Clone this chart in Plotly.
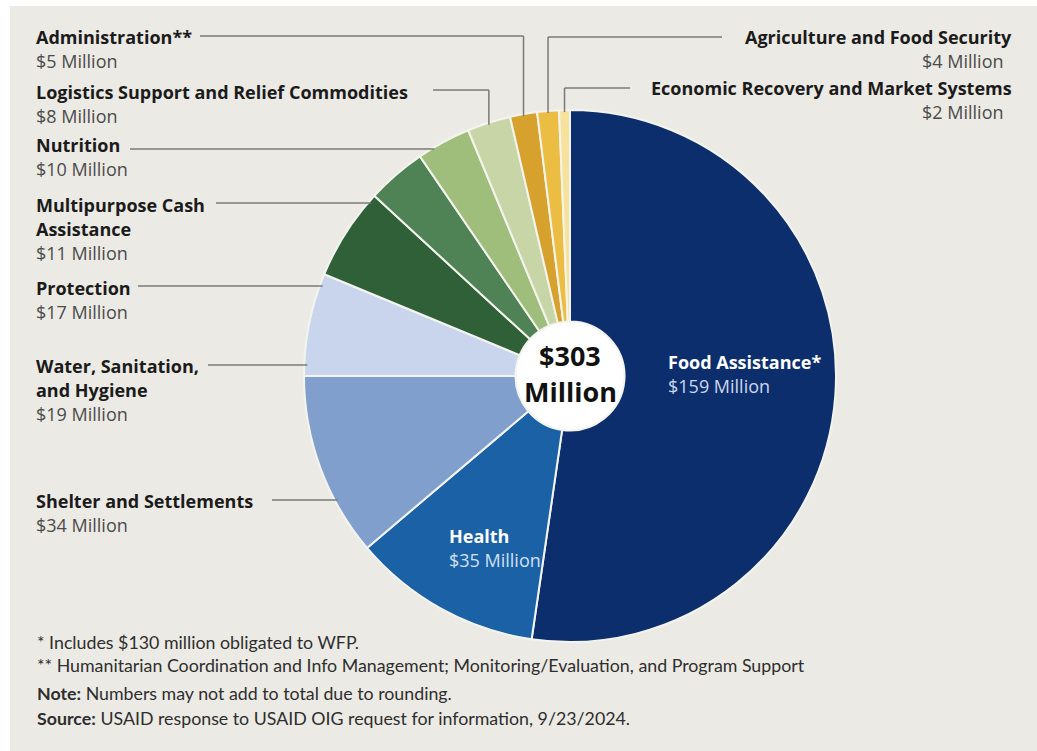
import numpy as np
import plotly.graph_objects as go

W, H = 1037, 751

# data, clockwise from 12 o'clock
sectors = ['Food Assistance*', 'Health', 'Shelter and Settlements',
           'Water, Sanitation, and Hygiene', 'Protection',
           'Multipurpose Cash Assistance', 'Nutrition',
           'Logistics Support and Relief Commodities', 'Administration**',
           'Agriculture and Food Security', 'Economic Recovery and Market Systems']
amounts = [159, 35, 34, 19, 17, 11, 10, 8, 5, 4, 2]
total_label = '$303'
colors = ['#0c2e6c', '#1a61a6', '#819fcd', '#c8d5ec', '#2f6038', '#4f8254',
          '#9fbd7b', '#c8d6a7', '#d6a12c', '#ebbd42', '#f6e29a']

# pie geometry in pixels
cx, cy, R = 570, 376, 266
hole = 0.205
bg = '#ECEAE4'
line_col = '#7a7a7a'
font = 'Open Sans'
foot_font = 'Lato'


def px(x):
  return x / W


def py(y):
  return 1 - y / H


fig = go.Figure(go.Pie(
  labels=sectors, values=amounts, sort=False, direction='clockwise',
  rotation=0, hole=hole, textinfo='none', hoverinfo='label+value',
  marker=dict(colors=colors, line=dict(color='#f4f4ee', width=2)),
  domain=dict(x=[px(cx - R), px(cx + R)], y=[py(cy + R), py(cy - R)]),
))

# white strips on top and left, beige elsewhere
shapes = [
  dict(type='rect', xref='paper', yref='paper', x0=0, x1=px(10), y0=0, y1=1,
       fillcolor='white', line=dict(width=0), layer='below'),
  dict(type='rect', xref='paper', yref='paper', x0=0, x1=1, y0=py(6), y1=1,
       fillcolor='white', line=dict(width=0), layer='below'),
  dict(type='circle', xref='paper', yref='paper',
       x0=px(cx - R * hole), x1=px(cx + R * hole),
       y0=py(cy + R * hole), y1=py(cy - R * hole),
       fillcolor='white', line=dict(width=0), layer='below'),
]

# slice mid angles (clockwise from top), from the data
vals = np.array(amounts, dtype=float)
ends = np.cumsum(vals) / vals.sum() * 360
mids = ends - vals / vals.sum() * 180


def edge_point(i):
  a = np.radians(mids[i])
  return cx + R * np.sin(a), cy - R * np.cos(a)


def hline(x0, x1, y):
  shapes.append(dict(type='line', xref='paper', yref='paper',
                     x0=px(x0), x1=px(x1), y0=py(y), y1=py(y),
                     line=dict(color=line_col, width=1.5)))


def vline(x, y0, y1):
  shapes.append(dict(type='line', xref='paper', yref='paper',
                     x0=px(x), x1=px(x), y0=py(y0), y1=py(y1),
                     line=dict(color=line_col, width=1.5)))


def side_x(y):
  return cx - np.sqrt(max(R ** 2 - (y - cy) ** 2, 0))


annotations = []


def text(x, y, s, anchor='left', size=18, color='#1b1b1b', bold=False, fam=font):
  if bold:
    s = '<b>' + s + '</b>'
  annotations.append(dict(xref='paper', yref='paper', x=px(x), y=py(y), text=s,
                          showarrow=False, xanchor=anchor, yanchor='middle',
                          font=dict(family=fam, size=size, color=color)))


amt_col = '#4b4b4b'

# left-side labels: (index, name lines, y of first line, line start x, line y)
left = [
  (8, ['Administration**'], 37, 200, 36),
  (7, ['Logistics Support and Relief Commodities'], 92, 433, 90),
  (6, ['Nutrition'], 145, 130, 149),
  (5, ['Multipurpose Cash', 'Assistance'], 205, 216, 203),
  (4, ['Protection'], 288, 138, 286),
  (3, ['Water, Sanitation,', 'and Hygiene'], 366, 208, 365),
  (2, ['Shelter and Settlements'], 501, 272, 500),
]
for i, lines, y, lx, ly in left:
  for k, ln in enumerate(lines):
    text(34, y + 24 * k, ln, bold=True)
  text(34, y + 24 * len(lines), '$%d Million' % amounts[i], color=amt_col)
  ex, ey = edge_point(i)
  if i in (7, 8):
    hline(lx, ex, ly)
    vline(ex, ly, ey + 2)
  else:
    hline(lx, side_x(ly) + 3, ly)

# right-side labels
right = [
  (9, 'Agriculture and Food Security', 37, 722),
  (10, 'Economic Recovery and Market Systems', 88, 630),
]
for i, name, y, lx in right:
  text(1014, y, name, anchor='right', bold=True)
  text(1006, y + 24, '$%d Million' % amounts[i], anchor='right', color=amt_col)
  ex, ey = edge_point(i)
  hline(lx, ex, y)
  vline(ex, y, ey + 2)

# labels inside slices
text(666, 362, 'Food Assistance*', color='white', bold=True)
text(666, 386, '$%d Million' % amounts[0], color='#cdd6ec')
text(447, 536, 'Health', color='white', bold=True)
text(447, 560, '$%d Million' % amounts[1], color='#d3e0f2')

# centre total
text(cx, cy - 21, total_label, anchor='center', size=27, color='#111', bold=True)
text(cx, cy + 15, 'Million', anchor='center', size=27, color='#111', bold=True)

# footnotes
foot = [
  (642, '* Includes $130 million obligated to WFP.'),
  (665, '** Humanitarian Coordination and Info Management; Monitoring/Evaluation, and Program Support'),
  (693, '<b>Note:</b> Numbers may not add to total due to rounding.'),
  (718, '<b>Source:</b> USAID response to USAID OIG request for information, 9/23/2024.'),
]
for y, s in foot:
  text(35, y, s, size=17.8, color='#2e2e2e', fam=foot_font)

fig.update_layout(
  width=W, height=H, showlegend=False,
  margin=dict(l=0, r=0, t=0, b=0),
  paper_bgcolor=bg, plot_bgcolor=bg,
  shapes=shapes, annotations=annotations,
)
fig.write_html('out.html', config={'displayModeBar': False},
               post_script="document.body.style.margin='0';"
                           "document.documentElement.style.overflow='hidden';")
